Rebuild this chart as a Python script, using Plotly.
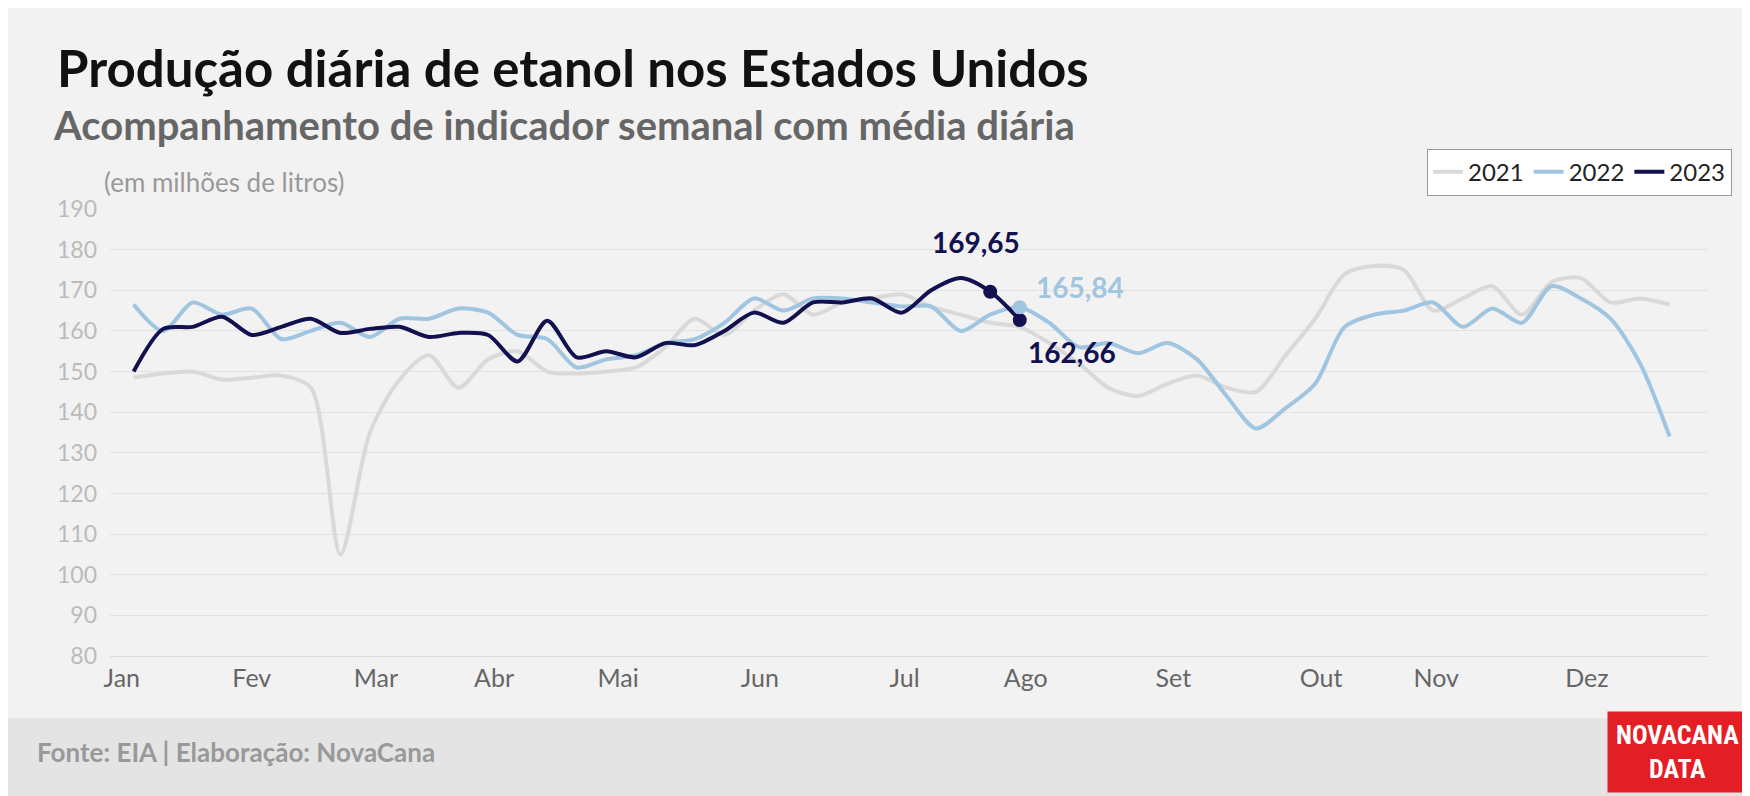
import plotly.graph_objects as go

months = ["Jan", "Fev", "Mar", "Abr", "Mai", "Jun", "Jul", "Ago", "Set", "Out", "Nov", "Dez"]
month_weeks = [-0.4, 4.0, 8.2, 12.2, 16.4, 21.2, 26.1, 30.2, 35.2, 40.2, 44.1, 49.2]

y2021 = [148.5, 149.5, 150, 148, 148.5, 149, 146, 105, 135, 148, 154, 146, 153, 155, 150,
         149.5, 150, 151, 156, 163, 159, 165, 169, 164, 167, 168, 169, 166, 164, 162,
         161, 157, 152, 146, 144, 147, 149, 146, 145, 154, 163, 174, 176, 175, 165,
         168, 171, 164, 172, 173, 167, 168, 166.5]
y2022 = [166.5, 160, 167, 164, 165.5, 158, 160, 162, 158.5, 163, 163, 165.5, 164.5, 159,
         158, 151, 153, 154, 157, 158, 162, 168, 165, 168, 168, 167, 166, 166, 160, 164,
         165.84, 162, 156, 157, 154.5, 157, 153, 144, 136, 141, 147, 161, 164, 165, 167,
         161, 165.5, 162, 171, 168, 163, 152, 134]
y2023 = [150, 160.5, 161, 163.5, 159, 161, 163, 159.5, 160.5, 161, 158.5, 159.5, 159,
         152.5, 162.5, 153.5, 155, 153.5, 157, 156.5, 160, 164.5, 162, 167, 167, 168,
         164.5, 170, 173, 169.65, 162.66]

c21, c22, c23 = "#d9d9d9", "#9fc5e0", "#12104f"

fig = go.Figure()
for name, ys, col in [("2021", y2021, c21), ("2022", y2022, c22), ("2023", y2023, c23)]:
    fig.add_trace(go.Scatter(x=list(range(len(ys))), y=ys, name=name, mode="lines",
                             line=dict(color=col, width=4, shape="spline", smoothing=0.8)))

# highlighted points
fig.add_trace(go.Scatter(x=[29, 30], y=[y2023[29], y2023[30]], mode="markers",
                         marker=dict(size=14, color=c23), showlegend=False))
fig.add_trace(go.Scatter(x=[30], y=[y2022[30]], mode="markers",
                         marker=dict(size=14, color=c22), showlegend=False))

fig.add_annotation(x=29, y=y2023[29], text="<b>169,65</b>", showarrow=False, yshift=50, xshift=-14,
                   font=dict(size=28, color=c23))
fig.add_annotation(x=30, y=y2023[30], text="<b>162,66</b>", showarrow=False, yshift=-32, xshift=52,
                   font=dict(size=28, color=c23))
fig.add_annotation(x=30, y=y2022[30], text="<b>165,84</b>", showarrow=False, yshift=20, xshift=60,
                   font=dict(size=28, color=c22))

fig.update_layout(
    width=1750, height=796, paper_bgcolor="#f2f2f2", plot_bgcolor="#f2f2f2",
    font=dict(family="Lato, Roboto, sans-serif", color="#888"),
    margin=dict(l=102, r=50, t=201, b=148),
    title=dict(text="<b>Produção diária de etanol nos Estados Unidos</b>", x=0.028, y=0.945,
               xanchor="left", font=dict(size=51, color="#111")),
    legend=dict(orientation="h", x=1.015, xanchor="right", y=1.135, yanchor="top",
                bgcolor="#ffffff", bordercolor="#999", borderwidth=1,
                font=dict(size=24, color="#222")),
    xaxis=dict(tickvals=month_weeks, ticktext=months, range=[-0.8, 53.3], showgrid=False,
               zeroline=False, tickfont=dict(size=25, color="#666"), showline=True,
               linecolor="#ddd"),
    yaxis=dict(range=[80, 190], dtick=10, gridcolor="#e2e2e2", zeroline=False,
               tickfont=dict(size=23, color="#bbb"), ticklabelstandoff=12),
    shapes=[dict(type="rect", xref="paper", yref="paper", x0=-0.1, x1=1.1, y0=-0.5, y1=-0.14,
                 fillcolor="#e4e4e4", line=dict(width=0), layer="below")],
)
fig.add_annotation(xref="paper", yref="paper", x=-0.037, y=1.245, xanchor="left",
                   text="<b>Acompanhamento de indicador semanal com média diária</b>",
                   showarrow=False, font=dict(size=40, color="#666"))
fig.add_annotation(xref="paper", yref="paper", x=-0.005, y=1.1, xanchor="left",
                   text="(em milhões de litros)", showarrow=False, font=dict(size=26, color="#999"))
fig.add_annotation(xref="paper", yref="paper", x=-0.047, y=-0.215, xanchor="left", yanchor="middle",
                   text="<b>Fonte: EIA | Elaboração: NovaCana</b>", showarrow=False,
                   font=dict(size=26, color="#999"))
fig.add_annotation(xref="paper", yref="paper", x=1.025, y=-0.215, xanchor="right", yanchor="middle",
                   text="<b>NOVACANA<br>DATA</b>", showarrow=False, bgcolor="#e31e24",
                   font=dict(size=26, color="white", family="Roboto Condensed, Liberation Sans Narrow, sans-serif"),
                   borderpad=8, align="center")

fig.write_html("out.html")
